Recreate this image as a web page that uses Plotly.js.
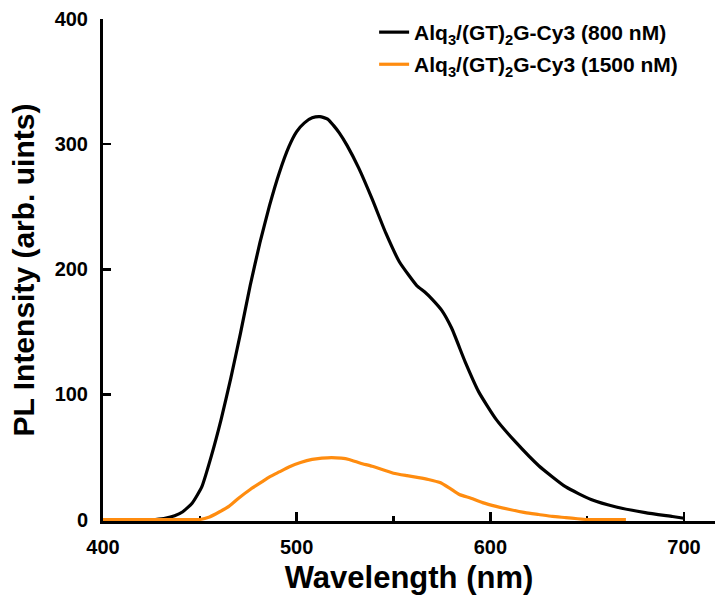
<!DOCTYPE html>
<html>
<head>
<meta charset="utf-8">
<script src="https://cdn.plot.ly/plotly-3.0.1.min.js"></script>
<style>html,body{margin:0;padding:0;background:#fff;}#chart{width:715px;height:599px;}</style>
</head>
<body>
<div id="chart"></div>
<script>
// Black curve: Alq3/(GT)2G-Cy3 (800 nM)
const wl800 = [427, 432, 437, 441, 446, 451, 456, 461, 466, 471, 476, 481, 486, 491, 496, 500, 504, 508, 512, 516, 519, 522, 526, 532, 539, 546, 553, 558, 562, 566, 570, 575, 580, 587, 594, 603, 613, 625, 639, 652, 665, 680, 694, 700];
const pl800 = [0, 1, 3, 6, 13, 26, 51, 80, 113, 149, 187, 221, 251, 277, 298, 310, 317, 321, 322, 320, 315, 309, 299, 281, 256, 229, 206, 195, 187, 182, 176, 167, 153, 126, 102, 80, 62, 43, 26, 16, 10, 5.5, 2.4, 1];
// Orange curve: Alq3/(GT)2G-Cy3 (1500 nM)
const wl1500 = [400, 420, 440, 450, 455, 460, 465, 470, 476, 482, 486, 491, 496, 502, 508, 513, 518, 523, 527, 533, 539, 550, 557, 563, 568, 574, 579, 584, 590, 596, 603, 610, 618, 625, 632, 639, 645, 650, 660, 670];
const pl1500 = [0, 0, 0, 0, 2, 6, 10.5, 17, 24, 30, 34, 38, 42, 45.5, 48, 49, 49.5, 49, 48, 45, 42.5, 37, 35, 33.5, 32, 29.5, 25, 20, 17, 13.5, 10.5, 8, 5.5, 4, 2.5, 1.5, 0.6, 0, 0, 0];
const legendNames = ['Alq<sub>3</sub>/(GT)<sub>2</sub>G-Cy3 (800 nM)', 'Alq<sub>3</sub>/(GT)<sub>2</sub>G-Cy3 (1500 nM)'];
const xTicks = [400, 500, 600, 700];
const yTicks = [0, 100, 200, 300, 400];

const FONT = 'Liberation Sans, Arial, Helvetica, sans-serif';
const legFont = {family: FONT, size: 21, weight: 'bold', color: '#000'};

const traces = [
  {x: wl800, y: pl800, name: legendNames[0], mode: 'lines', type: 'scatter', legend: 'legend',
   line: {color: '#000000', width: 3.2, shape: 'spline', smoothing: 0.5}},
  {x: wl1500, y: pl1500, name: legendNames[1], mode: 'lines', type: 'scatter', legend: 'legend2',
   line: {color: '#ff8c0f', width: 3.2, shape: 'spline', smoothing: 0.5}}
];

const layout = {
  width: 715, height: 599,
  margin: {l: 103, r: 0, t: 19, b: 78},
  paper_bgcolor: '#fff', plot_bgcolor: '#fff',
  font: {family: FONT, color: '#000'},
  showlegend: true,
  legend: {x: 0.443, y: 1.014, xanchor: 'left', yanchor: 'top', bgcolor: 'rgba(0,0,0,0)', font: legFont},
  legend2: {x: 0.443, y: 0.95, xanchor: 'left', yanchor: 'top', bgcolor: 'rgba(0,0,0,0)', font: legFont},
  xaxis: {
    range: [400, 716], tickvals: xTicks, ticktext: xTicks.map(String),
    ticks: 'inside', ticklen: 9, tickwidth: 2.5, tickcolor: '#000',
    showline: true, linewidth: 3, linecolor: '#000', layer: 'below traces',
    showgrid: false, zeroline: false, ticklabelstandoff: 6,
    minor: {tickvals: [450, 550, 650], ticks: 'inside', ticklen: 5, tickwidth: 2.5, tickcolor: '#000'},
    tickfont: {family: FONT, size: 20, weight: 'bold', color: '#000'},
    title: {text: 'Wavelength (nm)', standoff: 10, font: {family: FONT, size: 31, weight: 'bold', color: '#000'}}
  },
  yaxis: {
    range: [-1.2, 400], tickvals: yTicks, ticktext: yTicks.map(String),
    ticks: 'inside', ticklen: 8, tickwidth: 2.5, tickcolor: '#000',
    showline: true, linewidth: 3, linecolor: '#000', layer: 'below traces',
    showgrid: false, zeroline: false, ticklabelstandoff: 8,
    tickfont: {family: FONT, size: 20, weight: 'bold', color: '#000'},
    title: {text: 'PL Intensity (arb. uints)', standoff: 12, font: {family: FONT, size: 30, weight: 'bold', color: '#000'}}
  }
};

Plotly.newPlot('chart', traces, layout, {displayModeBar: false, staticPlot: true});
</script>
</body>
</html>
